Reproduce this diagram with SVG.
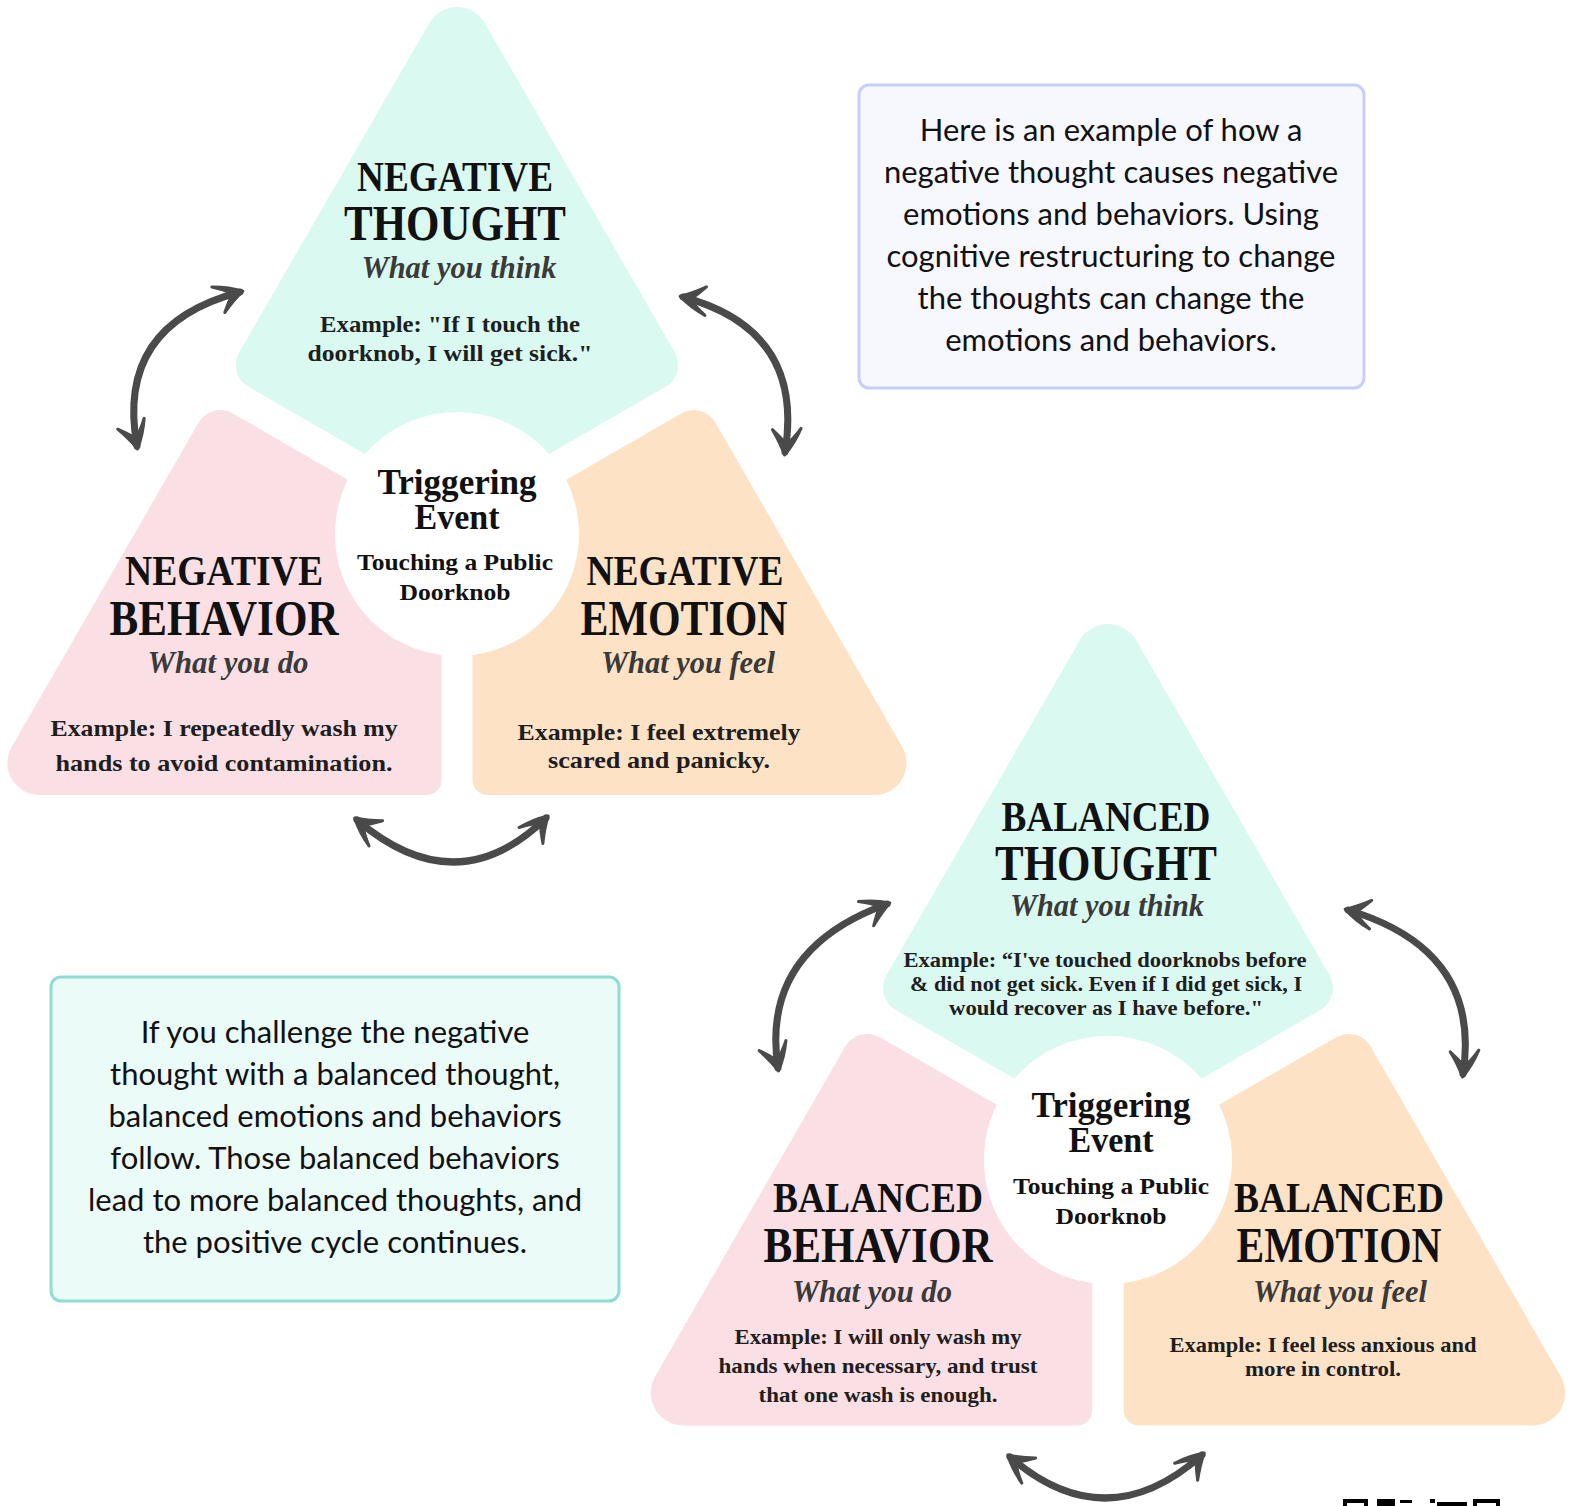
<svg xmlns="http://www.w3.org/2000/svg" width="1573" height="1506" viewBox="0 0 1573 1506">
<defs>
<style>
.h{font-family:"Liberation Serif","DejaVu Serif",serif;font-weight:bold;fill:#111;text-anchor:middle}
.h1{font-size:42px}
.h2{font-size:50px}
.trig{font-size:35px}
.tp{font-size:24px}
.sub{font-family:"Liberation Serif","DejaVu Serif",serif;font-style:italic;font-weight:bold;fill:#3a3a3a;text-anchor:middle;font-size:31px}
.ex{font-family:"Liberation Serif","DejaVu Serif",serif;font-weight:bold;fill:#1e1e1e;text-anchor:middle;font-size:23px}
.exs{font-size:21px}
.bx{font-family:Lato,"Liberation Sans",sans-serif;fill:#111;font-size:31px;text-anchor:middle}
.mint{fill:#d9f9f1}
.pink{fill:#fadfe4}
.peach{fill:#fde2c6}
.arrow{fill:none;stroke:#4a4a4a;stroke-width:7;stroke-linecap:round;marker-start:url(#ah);marker-end:url(#ah)}
</style>
<marker id="ah" viewBox="-32 -22 40 44" markerWidth="40" markerHeight="44" refX="0" refY="0" orient="auto-start-reverse" markerUnits="userSpaceOnUse">
<path d="M 3 0 Q -10 -8 -26 -12 Q -14 -6 -8 0 Q -14 7 -20 16 Q -8 6 3 0 Z" fill="#4a4a4a" stroke="#4a4a4a" stroke-width="3" stroke-linejoin="round"/>
</marker>
</defs>
<rect width="1573" height="1506" fill="#fff"/>

<g id="negative-thought">
<path class="mint" d="M 429.3 23 A 32 32 0 0 1 484.7 23 L 674.9 352.45 A 25 25 0 0 1 665.75 386.6 L 549.1 453.95 A 122 122 0 0 0 364.9 453.95 L 248.25 386.6 A 25 25 0 0 1 239.1 352.45 Z"/>
<text class="h h1" x="455" y="191" textLength="196" lengthAdjust="spacingAndGlyphs">NEGATIVE</text>
<text class="h h2" x="455" y="240" textLength="222" lengthAdjust="spacingAndGlyphs">THOUGHT</text>
<text class="sub" x="459" y="278" textLength="195" lengthAdjust="spacingAndGlyphs">What you think</text>
<text class="ex" x="450" y="332" textLength="260" lengthAdjust="spacingAndGlyphs">Example: "If I touch the</text>
<text class="ex" x="450" y="361" textLength="285" lengthAdjust="spacingAndGlyphs">doorknob, I will get sick."</text>
</g>

<g id="negative-behavior">
<path class="pink" d="M 232.75 413.4 L 347.7 479.8 A 122 122 0 0 0 441.5 655 L 441.5 780 A 15 15 0 0 1 426.5 795 L 39.4 795 A 32 32 0 0 1 11.7 747 L 198.6 422.55 A 25 25 0 0 1 232.75 413.4 Z"/>
<text class="h h1" x="224" y="585" textLength="198" lengthAdjust="spacingAndGlyphs">NEGATIVE</text>
<text class="h h2" x="224" y="635" textLength="229" lengthAdjust="spacingAndGlyphs">BEHAVIOR</text>
<text class="sub" x="228" y="673" textLength="161" lengthAdjust="spacingAndGlyphs">What you do</text>
<text class="ex" x="224" y="736" textLength="347" lengthAdjust="spacingAndGlyphs">Example: I repeatedly wash my</text>
<text class="ex" x="224" y="771" textLength="337" lengthAdjust="spacingAndGlyphs">hands to avoid contamination.</text>
</g>

<g id="negative-emotion">
<path class="peach" d="M 681.25 413.4 L 566.3 479.8 A 122 122 0 0 1 472.5 655 L 472.5 780 A 15 15 0 0 0 487.5 795 L 874.6 795 A 32 32 0 0 0 902.3 747 L 715.4 422.55 A 25 25 0 0 0 681.25 413.4 Z"/>
<text class="h h1" x="685" y="585" textLength="197" lengthAdjust="spacingAndGlyphs">NEGATIVE</text>
<text class="h h2" x="684" y="635" textLength="207" lengthAdjust="spacingAndGlyphs">EMOTION</text>
<text class="sub" x="688" y="673" textLength="174" lengthAdjust="spacingAndGlyphs">What you feel</text>
<text class="ex" x="659" y="740" textLength="283" lengthAdjust="spacingAndGlyphs">Example: I feel extremely</text>
<text class="ex" x="659" y="768" textLength="222" lengthAdjust="spacingAndGlyphs">scared and panicky.</text>
</g>

<g id="negative-trigger">
<circle cx="457" cy="534" r="115" fill="#fff"/>
<text class="h trig" x="457" y="494" textLength="159" lengthAdjust="spacingAndGlyphs">Triggering</text>
<text class="h trig" x="457" y="529" textLength="85" lengthAdjust="spacingAndGlyphs">Event</text>
<text class="h tp" x="455" y="570" textLength="196" lengthAdjust="spacingAndGlyphs">Touching a Public</text>
<text class="h tp" x="455" y="600" textLength="111" lengthAdjust="spacingAndGlyphs">Doorknob</text>
</g>

<g id="balanced-thought">
<path class="mint" transform="translate(643.2 616.9) scale(1.017)" d="M 429.3 23 A 32 32 0 0 1 484.7 23 L 674.9 352.45 A 25 25 0 0 1 665.75 386.6 L 549.1 453.95 A 122 122 0 0 0 364.9 453.95 L 248.25 386.6 A 25 25 0 0 1 239.1 352.45 Z"/>
<text class="h h1" x="1106" y="831" textLength="209" lengthAdjust="spacingAndGlyphs">BALANCED</text>
<text class="h h2" x="1106" y="880" textLength="222" lengthAdjust="spacingAndGlyphs">THOUGHT</text>
<text class="sub" x="1107" y="916" textLength="194" lengthAdjust="spacingAndGlyphs">What you think</text>
<text class="ex exs" x="1105" y="967" textLength="403" lengthAdjust="spacingAndGlyphs">Example: “I've touched doorknobs before</text>
<text class="ex exs" x="1106" y="991" textLength="392" lengthAdjust="spacingAndGlyphs">&amp; did not get sick. Even if I did get sick, I</text>
<text class="ex exs" x="1106" y="1015" textLength="314" lengthAdjust="spacingAndGlyphs">would recover as I have before."</text>
</g>

<g id="balanced-behavior">
<path class="pink" transform="translate(643.2 616.9) scale(1.017)" d="M 232.75 413.4 L 347.7 479.8 A 122 122 0 0 0 441.5 655 L 441.5 780 A 15 15 0 0 1 426.5 795 L 39.4 795 A 32 32 0 0 1 11.7 747 L 198.6 422.55 A 25 25 0 0 1 232.75 413.4 Z"/>
<text class="h h1" x="878" y="1212" textLength="210" lengthAdjust="spacingAndGlyphs">BALANCED</text>
<text class="h h2" x="878" y="1262" textLength="229" lengthAdjust="spacingAndGlyphs">BEHAVIOR</text>
<text class="sub" x="872" y="1302" textLength="160" lengthAdjust="spacingAndGlyphs">What you do</text>
<text class="ex exs" x="878" y="1344" textLength="287" lengthAdjust="spacingAndGlyphs">Example:  I will only wash my</text>
<text class="ex exs" x="878" y="1373" textLength="319" lengthAdjust="spacingAndGlyphs">hands when necessary, and trust</text>
<text class="ex exs" x="878" y="1402" textLength="239" lengthAdjust="spacingAndGlyphs">that one wash is enough.</text>
</g>

<g id="balanced-emotion">
<path class="peach" transform="translate(643.2 616.9) scale(1.017)" d="M 681.25 413.4 L 566.3 479.8 A 122 122 0 0 1 472.5 655 L 472.5 780 A 15 15 0 0 0 487.5 795 L 874.6 795 A 32 32 0 0 0 902.3 747 L 715.4 422.55 A 25 25 0 0 0 681.25 413.4 Z"/>
<text class="h h1" x="1339" y="1212" textLength="210" lengthAdjust="spacingAndGlyphs">BALANCED</text>
<text class="h h2" x="1339" y="1262" textLength="205" lengthAdjust="spacingAndGlyphs">EMOTION</text>
<text class="sub" x="1340" y="1302" textLength="174" lengthAdjust="spacingAndGlyphs">What you feel</text>
<text class="ex exs" x="1323" y="1352" textLength="307" lengthAdjust="spacingAndGlyphs">Example: I feel less anxious and</text>
<text class="ex exs" x="1323" y="1376" textLength="156" lengthAdjust="spacingAndGlyphs">more in control.</text>
</g>

<g id="balanced-trigger">
<circle cx="1108" cy="1160" r="115" fill="#fff"/>
<text class="h trig" x="1111" y="1117" textLength="159" lengthAdjust="spacingAndGlyphs">Triggering</text>
<text class="h trig" x="1111" y="1152" textLength="85" lengthAdjust="spacingAndGlyphs">Event</text>
<text class="h tp" x="1111" y="1194" textLength="196" lengthAdjust="spacingAndGlyphs">Touching a Public</text>
<text class="h tp" x="1111" y="1224" textLength="111" lengthAdjust="spacingAndGlyphs">Doorknob</text>
</g>

<g id="note-negative">
<rect x="859" y="85" width="505" height="303" rx="10" fill="#f7f8fe" stroke="#c8cefa" stroke-width="3"/>
<text class="bx" x="1111" y="141">Here is an example of how a</text>
<text class="bx" x="1111" y="183">negative thought causes negative</text>
<text class="bx" x="1111" y="225">emotions and behaviors. Using</text>
<text class="bx" x="1111" y="267">cognitive restructuring to change</text>
<text class="bx" x="1111" y="309">the thoughts can change the</text>
<text class="bx" x="1111" y="351">emotions and behaviors.</text>
</g>

<g id="note-balanced">
<rect x="51" y="977" width="568" height="324" rx="10" fill="#ebfbf8" stroke="#8fdcd3" stroke-width="3"/>
<text class="bx" x="335" y="1043">If you challenge the negative</text>
<text class="bx" x="335" y="1085">thought with a balanced thought,</text>
<text class="bx" x="335" y="1127">balanced emotions and behaviors</text>
<text class="bx" x="335" y="1169">follow. Those balanced behaviors</text>
<text class="bx" x="335" y="1211">lead to more balanced thoughts, and</text>
<text class="bx" x="335" y="1253">the positive cycle continues.</text>
</g>

<g id="connectors">
<path class="arrow" d="M 137 446 Q 115 325 240 292"/>
<path class="arrow" d="M 785 452 Q 805 330 683 297"/>
<path class="arrow" d="M 357 820 Q 457 905 546 818"/>
<path class="arrow" d="M 778 1068 Q 760 950 887 904"/>
<path class="arrow" d="M 1463 1074 Q 1482 950 1348 910"/>
<path class="arrow" d="M 1010 1457 Q 1106 1540 1202 1455"/>
</g>

<g id="qr-fragment" fill="#000">
<rect x="1343" y="1499" width="25" height="4"/>
<rect x="1343" y="1499" width="4" height="7"/>
<rect x="1364" y="1499" width="4" height="7"/>
<rect x="1377" y="1499" width="18" height="7"/>
<rect x="1400" y="1500" width="12" height="3"/>
<rect x="1430" y="1499" width="5" height="4"/>
<rect x="1437" y="1502" width="30" height="4"/>
<rect x="1473" y="1499" width="27" height="4"/>
<rect x="1473" y="1499" width="4" height="7"/>
<rect x="1496" y="1499" width="4" height="7"/>
</g>
</svg>
